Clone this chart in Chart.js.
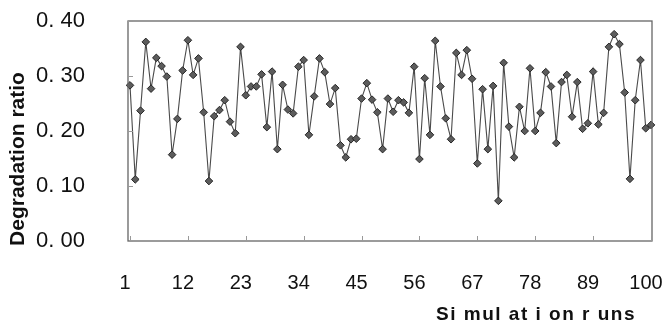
<!DOCTYPE html>
<html>
<head>
<meta charset="utf-8">
<script src="https://cdn.jsdelivr.net/npm/chart.js@4.4.1/dist/chart.umd.min.js"></script>
<style>
  html, body { margin: 0; padding: 0; background: #fff; }
  #wrap { width: 672px; height: 322px; }
</style>
</head>
<body>
<div id="wrap"><canvas id="chart" width="672" height="322"></canvas></div>
<script>
// run numbers 1..100
const runs = Array.from({ length: 100 }, (_, i) => String(i + 1));
const shownRuns = ['1', '12', '23', '34', '45', '56', '67', '78', '89', '100'];
const yTicks = [0, 0.1, 0.2, 0.3, 0.4];

// degradation ratio per run
const ratios = [
  0.283, 0.112, 0.237, 0.362, 0.277, 0.333, 0.318, 0.299, 0.157, 0.222,
  0.310, 0.365, 0.302, 0.332, 0.234, 0.109, 0.227, 0.238, 0.256, 0.217,
  0.196, 0.353, 0.265, 0.281, 0.281, 0.303, 0.207, 0.308, 0.167, 0.284,
  0.239, 0.232, 0.317, 0.329, 0.193, 0.263, 0.332, 0.307, 0.249, 0.278,
  0.174, 0.152, 0.185, 0.186, 0.259, 0.287, 0.257, 0.234, 0.167, 0.259,
  0.235, 0.256, 0.252, 0.233, 0.317, 0.149, 0.296, 0.193, 0.364, 0.281,
  0.223, 0.185, 0.342, 0.302, 0.347, 0.295, 0.141, 0.276, 0.167, 0.282,
  0.073, 0.324, 0.208, 0.152, 0.244, 0.200, 0.314, 0.200, 0.233, 0.307,
  0.281, 0.178, 0.289, 0.302, 0.226, 0.289, 0.204, 0.214, 0.308, 0.212,
  0.233, 0.353, 0.376, 0.358, 0.270, 0.113, 0.256, 0.329, 0.205, 0.211
];

const yTitle = 'Degradation ratio';
const xTitle = 'Si mul at i on r uns';

// frame, inward tick marks and the two axis titles
const framePlugin = {
  id: 'frame',
  afterDraw(chart) {
    const ctx = chart.ctx;
    const a = chart.chartArea;
    const xs = chart.scales.x, ys = chart.scales.y;
    const L = a.left - 2, R = a.right + 1, T = a.top, B = a.bottom;
    ctx.save();
    ctx.strokeStyle = '#666';
    ctx.lineWidth = 1.3;
    ctx.strokeRect(L, T, R - L, B - T);

    // inward ticks
    ctx.strokeStyle = '#999';
    ctx.lineWidth = 1;
    ctx.beginPath();
    xs.ticks.forEach((t, i) => {
      if (!t.label) return;
      const px = Math.round(xs.getPixelForTick(i)) + 0.5;
      ctx.moveTo(px, B);
      ctx.lineTo(px, B - 5);
    });
    yTicks.forEach(v => {
      const py = Math.round(ys.getPixelForValue(v)) + 0.5;
      ctx.moveTo(L, py);
      ctx.lineTo(L + 5, py);
    });
    ctx.stroke();

    ctx.fillStyle = '#111';
    ctx.font = 'bold 21px "Liberation Sans", Arial, sans-serif';
    // y title
    ctx.save();
    ctx.translate(24, 159);
    ctx.rotate(-Math.PI / 2);
    ctx.textAlign = 'center';
    ctx.textBaseline = 'alphabetic';
    ctx.fillText(yTitle, 0, 0);
    ctx.restore();
    // x title
    ctx.font = 'bold 19px "Liberation Sans", Arial, sans-serif';
    if ('letterSpacing' in ctx) ctx.letterSpacing = '1.5px';
    ctx.textAlign = 'right';
    ctx.textBaseline = 'alphabetic';
    ctx.fillText(xTitle, 636, 320);
    ctx.restore();
  }
};

new Chart(document.getElementById('chart'), {
  type: 'line',
  data: {
    labels: runs,
    datasets: [{
      data: ratios,
      borderColor: '#4a4a4a',
      borderWidth: 1.1,
      pointStyle: 'rectRot',
      pointRadius: 3.8,
      pointBorderWidth: 1,
      pointBackgroundColor: '#5c5c5c',
      pointBorderColor: '#262626',
      tension: 0,
      fill: false
    }]
  },
  options: {
    responsive: false,
    animation: false,
    layout: { padding: { top: 21, right: 21, left: 0, bottom: 0 } },
    plugins: { legend: { display: false }, tooltip: { enabled: false } },
    scales: {
      x: {
        type: 'category',
        offset: false,
        grid: { display: false },
        border: { display: false },
        ticks: {
          autoSkip: false,
          maxRotation: 0,
          minRotation: 0,
          padding: 22,
          labelOffset: -5,
          color: '#111',
          font: { family: '"Liberation Sans", Arial, sans-serif', size: 20 },
          callback(value) {
            const lab = this.getLabelForValue(value);
            return shownRuns.includes(lab) ? lab : '';
          }
        },
        afterFit(scale) {
          scale.height = 81;
          scale.paddingLeft = 0;
          scale.paddingRight = 0;
        }
      },
      y: {
        min: 0,
        max: 0.4,
        grid: { display: false },
        border: { display: false },
        ticks: {
          stepSize: 0.1,
          padding: 37,
          color: '#111',
          font: { family: '"Liberation Sans", Arial, sans-serif', size: 22 },
          callback: v => v.toFixed(2).replace('.', '. ')
        },
        afterFit(scale) {
          scale.width = 130;
          scale.paddingTop = 0;
          scale.paddingBottom = 0;
        }
      }
    }
  },
  plugins: [framePlugin]
});
</script>
</body>
</html>
